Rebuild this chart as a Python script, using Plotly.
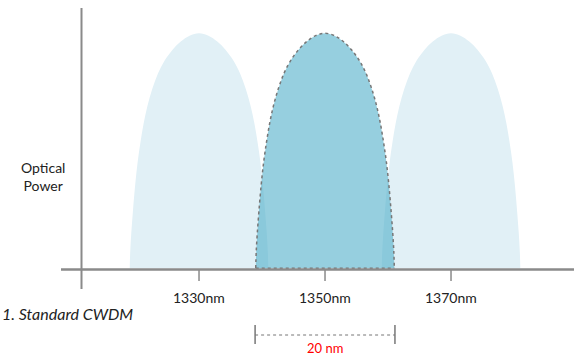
import plotly.graph_objects as go

# channel centres (nm) and labels
channels = [1330, 1350, 1370]
tick_text = ["1330nm", "1350nm", "1370nm"]

# one lobe profile: offset from centre (nm) vs relative power
lobe_offset = [-11.0, -10.92, -10.75, -10.5, -10.15, -9.75, -9.3, -8.8, -8.2, -7.4, -6.5, -5.5, -4.2, -2.9, -1.5, 0.0,
               1.5, 2.9, 4.2, 5.5, 6.5, 7.4, 8.2, 8.8, 9.3, 9.75, 10.15, 10.5, 10.75, 10.92, 11.0]
lobe_power = [0.0, 0.07, 0.15, 0.24, 0.35, 0.45, 0.535, 0.615, 0.69, 0.765, 0.83, 0.882, 0.93, 0.965, 0.99, 1.0,
              0.99, 0.965, 0.93, 0.882, 0.83, 0.765, 0.69, 0.615, 0.535, 0.45, 0.35, 0.24, 0.15, 0.07, 0.0]

spacing_label = "20 nm"
caption = "1. Standard CWDM"

W, H = 574, 356
X0, X1 = 1298.41, 1389.52   # x range -> full canvas width
Y0, Y1 = -0.3732, 1.1417    # y range -> full canvas height


def px(x):
    return x / W


def py(y):
    return 1 - y / H


FONT = "Lato"
AXIS = "#8a8a8a"
DOT = "#777777"

fig = go.Figure()

# side channels (light)
for c in (channels[0], channels[2]):
    fig.add_trace(go.Scatter(
        x=[c + o for o in lobe_offset], y=lobe_power,
        mode="lines", line=dict(width=0, shape="spline", smoothing=1),
        fill="toself", fillcolor="#e1f0f6", hoverinfo="skip"
    ))

# highlighted middle channel
mid = channels[1]
fig.add_trace(go.Scatter(
    x=[mid + o for o in lobe_offset], y=lobe_power,
    mode="lines", line=dict(width=1.5, color=DOT, dash="dot", shape="spline", smoothing=1),
    fill="toself", fillcolor="rgba(80,175,202,0.6)", hoverinfo="skip"
))
fig.add_trace(go.Scatter(
    x=[mid + lobe_offset[0], mid + lobe_offset[-1]], y=[lobe_power[0], lobe_power[-1]],
    mode="lines", line=dict(width=1.5, color=DOT, dash="dot"), hoverinfo="skip"
))

shapes = [
    # y axis
    dict(type="line", xref="paper", yref="paper", x0=px(81.5), x1=px(81.5), y0=py(8), y1=py(289),
         line=dict(color=AXIS, width=2)),
    # x axis
    dict(type="line", xref="paper", yref="paper", x0=px(61), x1=1, y0=py(269.5), y1=py(269.5),
         line=dict(color=AXIS, width=2.5)),
]
for c in channels:
    shapes.append(dict(type="line", xref="x", yref="paper", x0=c, x1=c, y0=py(270), y1=py(281),
                       line=dict(color=AXIS, width=1.5)))

# spacing bracket
bl, br = mid - 11.1, mid + 11.1
for b in (bl, br):
    shapes.append(dict(type="line", xref="x", yref="paper", x0=b, x1=b, y0=py(325), y1=py(344),
                       line=dict(color=DOT, width=1.5)))
shapes.append(dict(type="line", xref="x", yref="paper", x0=bl, x1=br, y0=py(335), y1=py(335),
                   line=dict(color=DOT, width=1, dash="dot")))

annotations = []
for c, t in zip(channels, tick_text):
    annotations.append(dict(x=c, y=py(297), xref="x", yref="paper", text=t, showarrow=False,
                            font=dict(family=FONT, size=14, color="#222"), xanchor="center", yanchor="middle"))
annotations += [
    dict(x=px(43), y=py(177), xref="paper", yref="paper", text="Optical<br>Power", showarrow=False,
         font=dict(family=FONT, size=14, color="#222"), xanchor="center", yanchor="middle"),
    dict(x=0, y=py(313), xref="paper", yref="paper", text="<i>" + caption + "</i>", showarrow=False,
         font=dict(family=FONT, size=16, color="#222"), xanchor="left", yanchor="middle"),
    dict(x=mid, y=py(348), xref="x", yref="paper", text=spacing_label, showarrow=False,
         font=dict(family=FONT, size=13, color="#ff0000"), xanchor="center", yanchor="middle"),
]

fig.update_layout(
    width=W, height=H,
    margin=dict(l=0, r=0, t=0, b=0),
    paper_bgcolor="white", plot_bgcolor="white",
    showlegend=False,
    xaxis=dict(range=[X0, X1], visible=False, fixedrange=True),
    yaxis=dict(range=[Y0, Y1], visible=False, fixedrange=True),
    shapes=shapes, annotations=annotations,
)

fig.write_html("out.html", config={"displayModeBar": False},
               post_script="document.body.style.margin='0';")
